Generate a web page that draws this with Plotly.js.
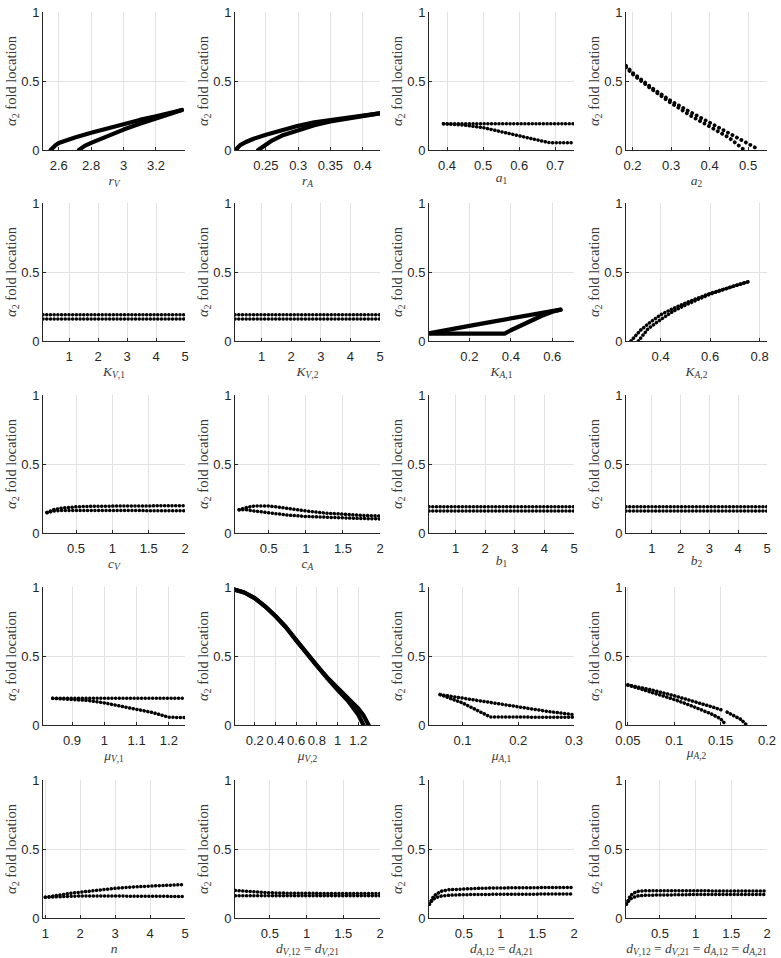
<!DOCTYPE html>
<html>
<head>
<meta charset="utf-8">
<script src="https://cdn.plot.ly/plotly-3.0.1.min.js"></script>
<style>html,body{margin:0;padding:0;background:#fff;}#chart{width:781px;height:958px;}</style>
</head>
<body>
<div id="chart"></div>
<script>
// ---------- data ----------
const rV_x1 = [2.55,2.56,2.58,2.6,2.65,2.7,2.8,2.9,3.0,3.1,3.2,3.3,3.36];
const rV_y1 = [0,0.015,0.035,0.05,0.072,0.09,0.125,0.158,0.19,0.218,0.245,0.27,0.29];
const rV_x2 = [2.725,2.74,2.76,2.8,2.85,2.9,3.0,3.1,3.2,3.3,3.36];
const rV_y2 = [0,0.015,0.03,0.052,0.078,0.1,0.148,0.19,0.232,0.267,0.29];

const rA_x1 = [0.203,0.206,0.21,0.22,0.23,0.25,0.275,0.3,0.325,0.35,0.375,0.4,0.426];
const rA_y1 = [0,0.02,0.035,0.06,0.08,0.11,0.145,0.175,0.2,0.218,0.235,0.25,0.265];
const rA_x2 = [0.238,0.242,0.25,0.26,0.275,0.3,0.325,0.35,0.375,0.4,0.426];
const rA_y2 = [0,0.012,0.04,0.07,0.105,0.145,0.18,0.207,0.228,0.248,0.265];

const a1_x1 = [0.39,0.75];
const a1_y1 = [0.19,0.19];
const a1_x2 = [0.39,0.45,0.5,0.55,0.6,0.65,0.68,0.7,0.75];
const a1_y2 = [0.19,0.18,0.162,0.133,0.1,0.07,0.055,0.052,0.052];

const a2_x1 = [0.183,0.2,0.25,0.3,0.35,0.4,0.45,0.5,0.52];
const a2_y1 = [0.61,0.56,0.45,0.355,0.275,0.2,0.125,0.05,0.015];
const a2_x2 = [0.183,0.2,0.25,0.3,0.35,0.4,0.45,0.49];
const a2_y2 = [0.6,0.55,0.44,0.34,0.25,0.17,0.09,0.0];

const KV1_x1 = [0.1,5], KV1_y1 = [0.19,0.19];
const KV1_x2 = [0.1,5], KV1_y2 = [0.16,0.16];
const KV2_x1 = [0.1,5], KV2_y1 = [0.19,0.19];
const KV2_x2 = [0.1,5], KV2_y2 = [0.16,0.16];

const KA1_x1 = [0.01,0.1,0.2,0.3,0.4,0.5,0.55,0.6,0.64];
const KA1_y1 = [0.057,0.085,0.11,0.137,0.163,0.19,0.203,0.215,0.227];
const KA1_x2 = [0.01,0.1,0.2,0.3,0.37,0.4,0.45,0.5,0.55,0.6,0.64];
const KA1_y2 = [0.053,0.053,0.053,0.053,0.053,0.078,0.115,0.148,0.183,0.212,0.227];

const KA2_x1 = [0.28,0.3,0.32,0.35,0.4,0.45,0.5,0.6,0.7,0.755];
const KA2_y1 = [0,0.045,0.08,0.125,0.19,0.235,0.275,0.345,0.4,0.43];
const KA2_x2 = [0.31,0.33,0.35,0.4,0.45,0.5,0.6,0.7,0.755];
const KA2_y2 = [0,0.05,0.09,0.155,0.215,0.26,0.34,0.4,0.43];

const cV_x1 = [0.1,0.15,0.2,0.3,0.4,0.5,0.75,1,1.5,2];
const cV_y1 = [0.148,0.16,0.17,0.18,0.186,0.19,0.194,0.196,0.198,0.198];
const cV_x2 = [0.1,0.15,0.2,0.3,0.5,1,1.5,2];
const cV_y2 = [0.148,0.155,0.16,0.163,0.164,0.163,0.162,0.162];

const cA_x1 = [0.1,0.2,0.3,0.4,0.5,0.6,0.75,1,1.25,1.5,1.75,2];
const cA_y1 = [0.168,0.185,0.195,0.197,0.195,0.19,0.178,0.16,0.145,0.135,0.128,0.123];
const cA_x2 = [0.1,0.2,0.3,0.5,0.75,1,1.25,1.5,1.75,2];
const cA_y2 = [0.168,0.168,0.16,0.145,0.13,0.12,0.113,0.108,0.105,0.102];

const b1_x1 = [0.1,5], b1_y1 = [0.19,0.19];
const b1_x2 = [0.1,5], b1_y2 = [0.16,0.16];
const b2_x1 = [0.1,5], b2_y1 = [0.19,0.19];
const b2_x2 = [0.1,5], b2_y2 = [0.16,0.16];

const muV1_x1 = [0.84,1.25], muV1_y1 = [0.193,0.193];
const muV1_x2 = [0.84,0.9,0.95,1.0,1.05,1.1,1.15,1.2,1.25];
const muV1_y2 = [0.193,0.188,0.178,0.16,0.138,0.116,0.09,0.056,0.054];

const muV2_x1 = [0.01,0.1,0.2,0.3,0.4,0.5,0.6,0.7,0.8,0.9,1.0,1.1,1.2,1.25,1.3];
const muV2_y1 = [0.98,0.96,0.92,0.86,0.79,0.71,0.615,0.52,0.43,0.345,0.27,0.2,0.12,0.07,0.0];
const muV2_x2 = [0.01,0.1,0.2,0.3,0.4,0.5,0.6,0.7,0.8,0.9,1.0,1.1,1.2,1.25];
const muV2_y2 = [0.98,0.96,0.92,0.86,0.79,0.71,0.615,0.52,0.43,0.34,0.255,0.175,0.075,0.0];

const muA1_x1 = [0.06,0.1,0.15,0.2,0.25,0.3];
const muA1_y1 = [0.22,0.195,0.165,0.13,0.1,0.075];
const muA1_x2 = [0.06,0.1,0.15,0.2,0.25,0.3];
const muA1_y2 = [0.22,0.16,0.058,0.056,0.056,0.056];

const muA2_x1 = [0.05,0.075,0.1,0.125,0.14,0.152];
const muA2_y1 = [0.29,0.255,0.212,0.165,0.133,0.107];
const muA2_x1b = [0.157,0.165,0.172,0.178];
const muA2_y1b = [0.093,0.068,0.04,0.0];
const muA2_x2 = [0.05,0.075,0.1,0.12,0.14,0.15,0.156];
const muA2_y2 = [0.29,0.24,0.185,0.135,0.08,0.045,0.0];

const n_x1 = [1,1.25,1.5,1.75,2,2.5,3,3.5,4,4.5,5];
const n_y1 = [0.15,0.162,0.172,0.18,0.187,0.203,0.215,0.225,0.232,0.238,0.243];
const n_x2 = [1,1.5,2,3,4,5];
const n_y2 = [0.15,0.158,0.16,0.159,0.157,0.156];

const dV_x1 = [0.03,0.1,0.2,0.3,0.5,0.75,1,1.5,2];
const dV_y1 = [0.2,0.197,0.192,0.188,0.183,0.18,0.178,0.177,0.177];
const dV_x2 = [0.03,2];
const dV_y2 = [0.161,0.161];

const dA_x1 = [0.03,0.05,0.08,0.12,0.16,0.2,0.3,0.5,0.75,1,1.5,2];
const dA_y1 = [0.1,0.125,0.15,0.172,0.185,0.195,0.205,0.212,0.216,0.218,0.22,0.222];
const dA_x2 = [0.03,0.05,0.08,0.12,0.16,0.2,0.3,0.5,1,1.5,2];
const dA_y2 = [0.1,0.118,0.135,0.148,0.155,0.16,0.165,0.169,0.172,0.173,0.174];

const dAll_x1 = [0.03,0.05,0.08,0.12,0.16,0.2,0.3,0.5,1,1.5,2];
const dAll_y1 = [0.1,0.125,0.155,0.178,0.188,0.194,0.198,0.199,0.197,0.196,0.196];
const dAll_x2 = [0.03,0.05,0.08,0.12,0.16,0.2,0.3,0.5,1,2];
const dAll_y2 = [0.1,0.118,0.135,0.148,0.156,0.161,0.165,0.168,0.17,0.171];

// tick labels
const t_rV = ['2.6','2.8','3','3.2'];
const t_rA = ['0.25','0.3','0.35','0.4'];
const t_a1 = ['0.4','0.5','0.6','0.7'];
const t_a2 = ['0.2','0.3','0.4','0.5'];
const t_K  = ['1','2','3','4','5'];
const t_KA1 = ['0.2','0.4','0.6'];
const t_KA2 = ['0.4','0.6','0.8'];
const t_c  = ['0.5','1','1.5','2'];
const t_muV1 = ['0.9','1','1.1','1.2'];
const t_muV2 = ['0.2','0.4','0.6','0.8','1','1.2'];
const t_muA1 = ['0.1','0.2','0.3'];
const t_muA2 = ['0.05','0.1','0.15','0.2'];
const t_n = ['1','2','3','4','5'];
const t_y = ['0','0.5','1'];

// axis titles
const xTitles = [
  '<i>r</i><sub><i>V</i></sub>', '<i>r</i><sub><i>A</i></sub>', '<i>a</i><sub>1</sub>', '<i>a</i><sub>2</sub>',
  '<i>K</i><sub><i>V</i>,1</sub>', '<i>K</i><sub><i>V</i>,2</sub>', '<i>K</i><sub><i>A</i>,1</sub>', '<i>K</i><sub><i>A</i>,2</sub>',
  '<i>c</i><sub><i>V</i></sub>', '<i>c</i><sub><i>A</i></sub>', '<i>b</i><sub>1</sub>', '<i>b</i><sub>2</sub>',
  '<i>μ</i><sub><i>V</i>,1</sub>', '<i>μ</i><sub><i>V</i>,2</sub>', '<i>μ</i><sub><i>A</i>,1</sub>', '<i>μ</i><sub><i>A</i>,2</sub>',
  '<i>n</i>', '<i>d</i><sub><i>V</i>,12</sub> = <i>d</i><sub><i>V</i>,21</sub>',
  '<i>d</i><sub><i>A</i>,12</sub> = <i>d</i><sub><i>A</i>,21</sub>',
  '<i>d</i><sub><i>V</i>,12</sub> = <i>d</i><sub><i>V</i>,21</sub> = <i>d</i><sub><i>A</i>,12</sub> = <i>d</i><sub><i>A</i>,21</sub>'
];
const yTitle = '<i>α</i><sub>2</sub> fold location';

// ---------- panel setup ----------
const num = a => a.map(Number);
const panels = [
  {xr:[2.503,3.379], tt:t_rV, s:[[rV_x1,rV_y1],[rV_x2,rV_y2]], dense:true},
  {xr:[0.202,0.427], tt:t_rA, s:[[rA_x1,rA_y1],[rA_x2,rA_y2]], dense:true},
  {xr:[0.35,0.752], tt:t_a1, s:[[a1_x1,a1_y1],[a1_x2,a1_y2]]},
  {xr:[0.183,0.549], tt:t_a2, s:[[a2_x1,a2_y1],[a2_x2,a2_y2]], sparse:true},
  {xr:[0.1,5], tt:t_K, s:[[KV1_x1,KV1_y1],[KV1_x2,KV1_y2]]},
  {xr:[0.1,5], tt:t_K, s:[[KV2_x1,KV2_y1],[KV2_x2,KV2_y2]]},
  {xr:[0.005,0.705], tt:t_KA1, s:[[KA1_x1,KA1_y1],[KA1_x2,KA1_y2]], dense:true},
  {xr:[0.26,0.83], tt:t_KA2, s:[[KA2_x1,KA2_y1],[KA2_x2,KA2_y2]]},
  {xr:[0.045,2], tt:t_c, s:[[cV_x1,cV_y1],[cV_x2,cV_y2]]},
  {xr:[0.045,2], tt:t_c, s:[[cA_x1,cA_y1],[cA_x2,cA_y2]]},
  {xr:[0.1,5], tt:t_K, s:[[b1_x1,b1_y1],[b1_x2,b1_y2]]},
  {xr:[0.1,5], tt:t_K, s:[[b2_x1,b2_y1],[b2_x2,b2_y2]]},
  {xr:[0.81,1.25], tt:t_muV1, s:[[muV1_x1,muV1_y1],[muV1_x2,muV1_y2]]},
  {xr:[0.01,1.41], tt:t_muV2, s:[[muV2_x1,muV2_y1],[muV2_x2,muV2_y2]], dense:true},
  {xr:[0.04,0.3], tt:t_muA1, s:[[muA1_x1,muA1_y1],[muA1_x2,muA1_y2]]},
  {xr:[0.048,0.2], tt:t_muA2, s:[[muA2_x1,muA2_y1],[muA2_x1b,muA2_y1b],[muA2_x2,muA2_y2]]},
  {xr:[0.935,5], tt:t_n, s:[[n_x1,n_y1],[n_x2,n_y2]]},
  {xr:[0.025,2], tt:t_c, s:[[dV_x1,dV_y1],[dV_x2,dV_y2]]},
  {xr:[0.025,2], tt:t_c, s:[[dA_x1,dA_y1],[dA_x2,dA_y2]]},
  {xr:[0.025,2], tt:t_c, s:[[dAll_x1,dAll_y1],[dAll_x2,dAll_y2]]}
];

const W = 781, H = 958;
const colL = [43, 235, 429, 626];
const colW = [142, 145, 145, 141];
const rowT = [12, 203, 395, 587, 780];
const rowH = 138;

const tickFont = {family:'"Liberation Sans", Arial, sans-serif', size:13, color:'#262626'};
const xTitleFont = {family:'"Liberation Serif", "DejaVu Serif", serif', size:13.5, color:'#3a3a3a'};
const yTitleFont = {family:'"Liberation Serif", "DejaVu Serif", serif', size:14.5, color:'#3a3a3a'};
const gridC = '#e2e2e2';

const traces = [];
const layout = {
  width: W, height: H,
  margin: {l:0, r:0, t:0, b:0},
  paper_bgcolor: '#ffffff', plot_bgcolor: '#ffffff',
  showlegend: false
};

panels.forEach((p, i) => {
  const r = Math.floor(i / 4), c = i % 4;
  const k = i === 0 ? '' : String(i + 1);
  const xa = 'xaxis' + k, ya = 'yaxis' + k;
  const x0 = colL[c] / W, x1 = (colL[c] + colW[c]) / W;
  const y1 = 1 - rowT[r] / H, y0 = 1 - (rowT[r] + rowH) / H;
  layout[xa] = {
    domain: [x0, x1], anchor: 'y' + k, range: p.xr,
    tickmode: 'array', tickvals: num(p.tt), ticktext: p.tt,
    showgrid: true, gridcolor: gridC, gridwidth: 1, zeroline: false,
    showline: true, linecolor: '#262626', linewidth: 1,
    ticks: 'inside', ticklen: 3, tickcolor: '#262626',
    tickfont: tickFont, ticklabelstandoff: 3,
    title: {text: xTitles[i], font: xTitleFont, standoff: 0}
  };
  layout[ya] = {
    domain: [y0, y1], anchor: 'x' + k, range: [0, 1],
    tickmode: 'array', tickvals: num(t_y), ticktext: t_y,
    showgrid: true, gridcolor: gridC, gridwidth: 1, zeroline: false,
    showline: true, linecolor: '#262626', linewidth: 1,
    ticks: 'inside', ticklen: 3, tickcolor: '#262626',
    tickfont: tickFont,
    title: {text: yTitle, font: yTitleFont, standoff: 0}
  };
  p.s.forEach(([xs, ys]) => {
    const tr = {
      type: 'scatter', x: xs, y: ys, xaxis: 'x' + k, yaxis: 'y' + k,
      hoverinfo: 'skip', mode: 'lines'
    };
    if (p.dense) {
      tr.line = {color: '#000', width: 4.2};
    } else if (p.sparse) {
      tr.line = {color: '#000', width: 3.8, dash: '0.1px,5px'};
    } else {
      tr.line = {color: '#000', width: 3.5, dash: '0.1px,3.6px'};
    }
    traces.push(tr);
  });
});

Plotly.newPlot('chart', traces, layout, {staticPlot: true, displayModeBar: false}).then(() => {
  document.querySelectorAll('.scatterlayer .js-line').forEach(el => {
    el.style.strokeLinecap = 'round';
    el.style.strokeLinejoin = 'round';
  });
});
</script>
</body>
</html>
